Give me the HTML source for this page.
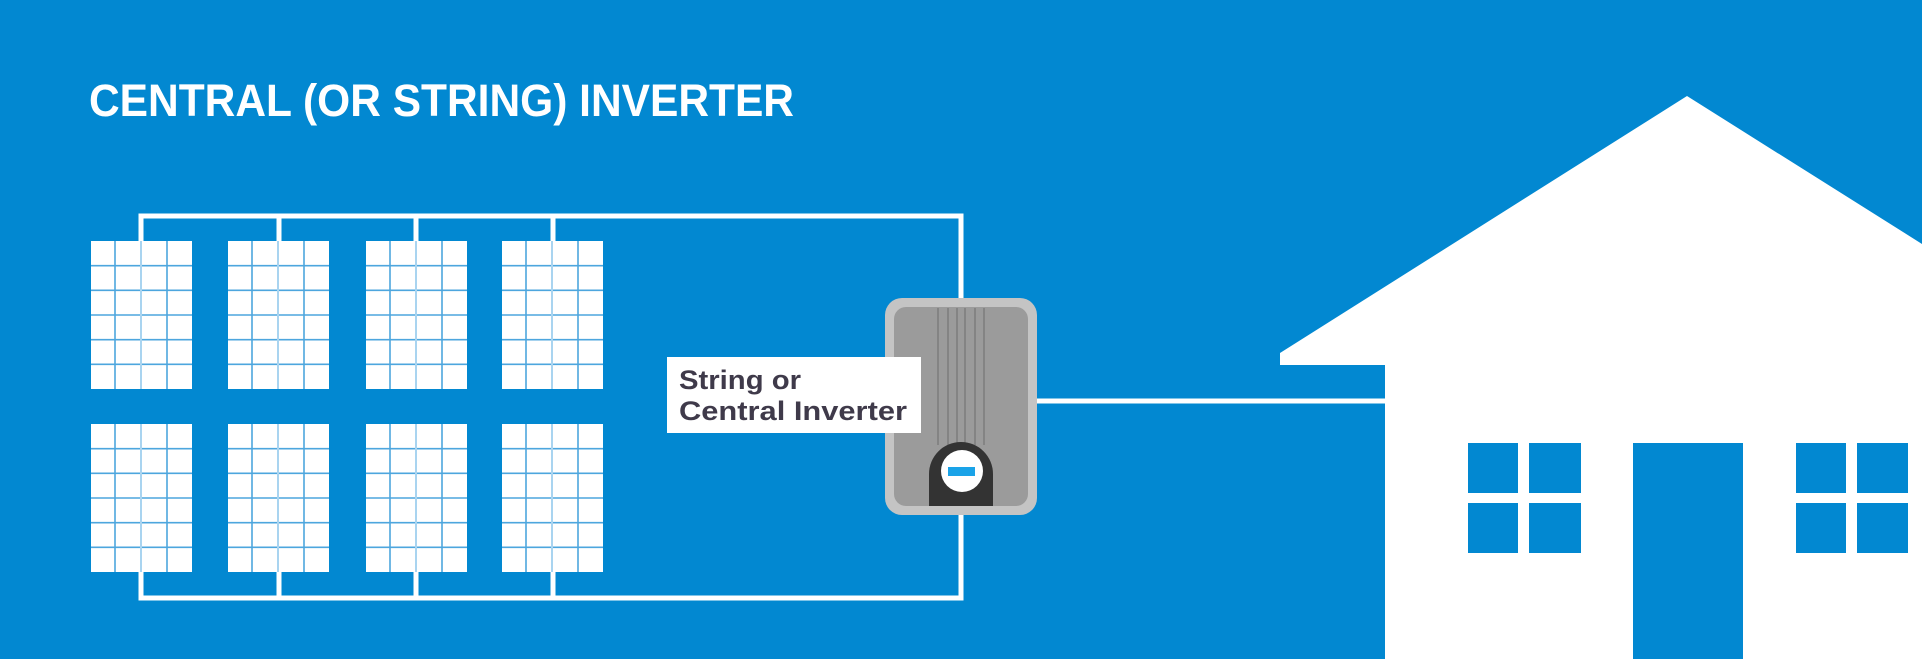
<!DOCTYPE html>
<html><head><meta charset="utf-8"><style>html,body{margin:0;padding:0;background:#0288d1;}svg{display:block}</style></head>
<body>
<svg width="1922" height="659" viewBox="0 0 1922 659" xmlns="http://www.w3.org/2000/svg">
<defs>
<g id="panel">
  <rect x="0" y="0" width="101" height="148" fill="#fff"/>
  <g stroke="#4da6de" stroke-width="1.6">
    <line x1="24" y1="0" x2="24" y2="148"/>
    <line x1="76" y1="0" x2="76" y2="148"/>
    <line x1="0" y1="24.7" x2="101" y2="24.7"/>
    <line x1="0" y1="49.3" x2="101" y2="49.3"/>
    <line x1="0" y1="74" x2="101" y2="74"/>
    <line x1="0" y1="98.7" x2="101" y2="98.7"/>
    <line x1="0" y1="123.3" x2="101" y2="123.3"/>
  </g>
  <line x1="50" y1="0" x2="50" y2="148" stroke="#a9d4f0" stroke-width="2"/>
</g>
</defs>
<rect width="1922" height="659" fill="#0288d1"/>
<text x="89" y="116" font-family="Liberation Sans, sans-serif" font-weight="bold" font-size="45" fill="#fff" textLength="705" lengthAdjust="spacingAndGlyphs">CENTRAL (OR STRING) INVERTER</text>

<g stroke="#fff" stroke-width="5" fill="none">
  <polyline points="141,241 141,216 961,216 961,300"/>
  <line x1="279" y1="216" x2="279" y2="241"/>
  <line x1="416" y1="216" x2="416" y2="241"/>
  <line x1="553" y1="216" x2="553" y2="241"/>
  <polyline points="141,572 141,598 961,598 961,512"/>
  <line x1="279" y1="572" x2="279" y2="598"/>
  <line x1="416" y1="572" x2="416" y2="598"/>
  <line x1="553" y1="572" x2="553" y2="598"/>
  <line x1="1037" y1="401" x2="1390" y2="401"/>
</g>

<use href="#panel" x="91" y="241"/>
<use href="#panel" x="228" y="241"/>
<use href="#panel" x="366" y="241"/>
<use href="#panel" x="502" y="241"/>
<use href="#panel" x="91" y="424"/>
<use href="#panel" x="228" y="424"/>
<use href="#panel" x="366" y="424"/>
<use href="#panel" x="502" y="424"/>

<rect x="885" y="298" width="152" height="217" rx="17" fill="#c4c4c4"/>
<rect x="894" y="307" width="134" height="199" rx="12" fill="#9b9b9b"/>
<g stroke="#7d7d7d" stroke-width="1.5">
  <line x1="938" y1="308" x2="938" y2="445"/>
  <line x1="948" y1="308" x2="948" y2="445"/>
  <line x1="957" y1="308" x2="957" y2="445"/>
  <line x1="965" y1="308" x2="965" y2="445"/>
  <line x1="975" y1="308" x2="975" y2="445"/>
  <line x1="984" y1="308" x2="984" y2="445"/>
</g>
<path d="M929,506 L929,474 A32,32 0 0 1 993,474 L993,506 Z" fill="#333"/>
<circle cx="962" cy="471" r="21" fill="#fff"/>
<rect x="948" y="467" width="27" height="9" fill="#1aa3e8"/>

<rect x="667" y="357" width="254" height="76" fill="#fff"/>
<text x="679" y="389" font-family="Liberation Sans, sans-serif" font-weight="bold" font-size="27" fill="#3f3a4a" textLength="122" lengthAdjust="spacingAndGlyphs">String or</text>
<text x="679" y="420" font-family="Liberation Sans, sans-serif" font-weight="bold" font-size="27" fill="#3f3a4a" textLength="228" lengthAdjust="spacingAndGlyphs">Central Inverter</text>

<polygon points="1687,96 1922,244 1922,659 1385,659 1385,398 1385,365 1280,365 1280,353" fill="#fff"/>
<rect x="1468" y="443" width="50" height="50" fill="#0288d1"/>
<rect x="1529" y="443" width="52" height="50" fill="#0288d1"/>
<rect x="1468" y="503" width="50" height="50" fill="#0288d1"/>
<rect x="1529" y="503" width="52" height="50" fill="#0288d1"/>
<rect x="1633" y="443" width="110" height="216" fill="#0288d1"/>
<rect x="1796" y="443" width="50" height="50" fill="#0288d1"/>
<rect x="1857" y="443" width="51" height="50" fill="#0288d1"/>
<rect x="1796" y="503" width="50" height="50" fill="#0288d1"/>
<rect x="1857" y="503" width="51" height="50" fill="#0288d1"/>
</svg>
</body></html>
